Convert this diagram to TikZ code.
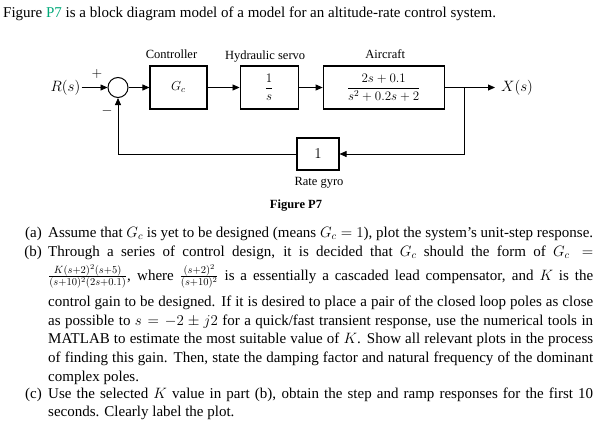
\RequirePackage{fix-cm}
\documentclass[tikz,border=0pt]{standalone}
\usepackage{amsmath}
\usepackage{fontspec}
\setmainfont{Liberation Serif}
\usepackage{xcolor}
\usepackage{tikz}
\usetikzlibrary{positioning,arrows.meta}
\definecolor{figref}{RGB}{0,168,120}
\newcommand{\topstrut}{\rule{0pt}{12pt}}

\begin{document}
\begin{tikzpicture}
    [x=1pt, y=-1pt, inner sep=0pt,
    block/.style={draw, line width=1.1pt, minimum height=43pt, font=\fontsize{13}{15}\selectfont},
    summer/.style={draw, circle, line width=1pt, minimum size=20pt},
    sig/.style={font=\fontsize{15}{18}\selectfont},
    caption/.style={font=\fontsize{12.5}{14}\selectfont, anchor=base},
    body/.style={font=\fontsize{15}{18.6}\selectfont, anchor=north west, text width=545pt, align=justify},
    tag/.style={font=\fontsize{15}{18.6}\selectfont, anchor=north east},
    wire/.style={line width=0.8pt, -{Triangle[length=7pt,width=6pt]}}]

\useasboundingbox (0,0) rectangle (603,434);

\node[sig, anchor=base west] (intro) at (3,17)
    {Figure \textcolor{figref}{P7} is a block diagram model of a model for an altitude-rate control system.};

\node[summer] (sum) at (118,87.5) {};
\node[block, minimum width=57pt] (ctrl) at (178.5,87.5) {$G_c$};
\node[block, minimum width=58pt, right=32pt of ctrl] (servo) {$\dfrac{1}{s}$};
\node[block, minimum width=121pt, right=24pt of servo] (plant) {$\dfrac{2s+0.1}{s^2+0.2s+2}$};
\node[block, minimum width=42pt, minimum height=32pt, font=\fontsize{15}{18}\selectfont] (gyro) at (318,154) {$1$};
\node[sig, inner xsep=1pt, left=26pt of sum] (in) {$R(s)$};
\node[sig, inner xsep=6pt, anchor=west] (out) at (495,87.5) {$X(s)$};
\coordinate (split) at (464,87.5);
\node[font=\fontsize{14}{16}\selectfont] (plus) at (97,74) {$+$};
\node[font=\fontsize{14}{16}\selectfont] (minus) at (107,111) {$-$};

\node[caption] (ctrllbl) at ([xshift=-7pt, yshift=7pt]ctrl.north) {Controller};
\node[caption] (servolbl) at ([xshift=-4pt, yshift=5.5pt]servo.north) {Hydraulic servo};
\node[caption] (plantlbl) at ([xshift=1.5pt, yshift=7pt]plant.north) {Aircraft};
\node[caption] (gyrolbl) at ([xshift=1pt, yshift=-15pt]gyro.south) {Rate gyro};

\draw[wire] (in) -- (sum);
\draw[wire] (sum) -- (ctrl);
\draw[wire] (ctrl) -- (servo);
\draw[wire] (servo) -- (plant);
\draw[wire] (plant) -- (out);
\draw[wire] (split) |- (gyro);
\draw[wire] (gyro) -| (sum);

\node[font=\bfseries\fontsize{12.5}{14}\selectfont, anchor=base] (figcap) at (296,208) {Figure P7};

\node[body] (parta) at (48,225)
    {\topstrut Assume that $G_c$ is yet to be designed (means $G_c = 1$), plot the system's unit-step response.};
\node[body] (partb) at (48,244)
    {\topstrut Through a series of control design, it is decided that $G_c$ should the form of $G_c =$\linebreak
    \rule[-14.8pt]{0pt}{34.6pt}$\frac{K(s+2)^2(s+5)}{(s+10)^2(2s+0.1)}$, where $\frac{(s+2)^2}{(s+10)^2}$ is a essentially a cascaded lead compensator, and $K$ is the\linebreak
    control gain to be designed. If it is desired to place a pair of the closed loop poles as close\linebreak
    as possible to $s = -2 \pm j2$ for a quick/fast transient response, use the numerical tools in\linebreak
    MATLAB to estimate the most suitable value of $K$. Show all relevant plots in the process\linebreak
    of finding this gain. Then, state the damping factor and natural frequency of the dominant\linebreak
    complex poles.};
\node[body] (partc) at (48,386)
    {\topstrut Use the selected $K$ value in part (b), obtain the step and ramp responses for the first 10\linebreak
    seconds. Clearly label the plot.};

\node[tag] (taga) at ([xshift=-6pt]parta.north west) {\topstrut(a)};
\node[tag] (tagb) at ([xshift=-6pt]partb.north west) {\topstrut(b)};
\node[tag] (tagc) at ([xshift=-6pt]partc.north west) {\topstrut(c)};
\end{tikzpicture}
\end{document}
